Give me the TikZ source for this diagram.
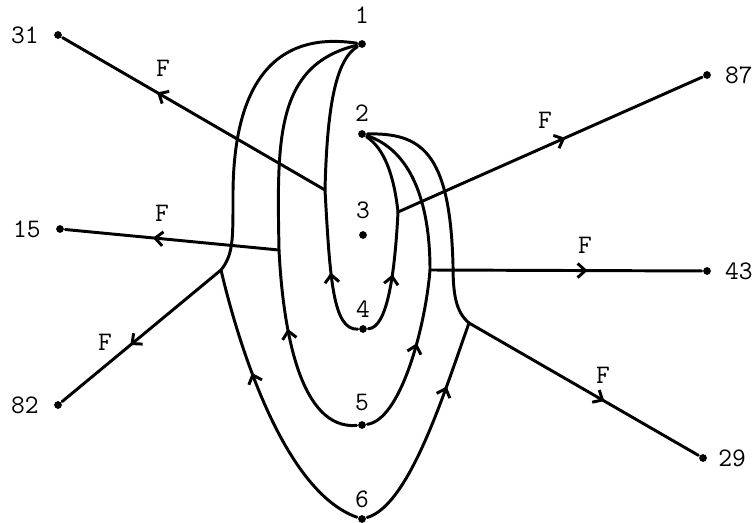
\documentclass[tikz,border=0pt]{standalone}
\usepackage{fontspec}
\usetikzlibrary{arrows.meta, decorations.markings, positioning}

\begin{document}
\begin{tikzpicture}[x=0.025cm, y=-0.025cm, line width=2.1pt, line cap=round,
  line join=round, >={Straight Barb[length=5.5pt,width=10pt]},
  font=\ttfamily\fontsize{19}{21}\selectfont,
  pt/.style={circle, fill, inner sep=0pt, minimum size=5.5pt},
  num/.style={inner sep=1pt},
  flow/.style={postaction={decorate},
    decoration={markings, mark=at position #1 with {\arrow{>}}}}]
  \useasboundingbox (0,0) rectangle (754,523);
  %% points on the axis
  \node[pt] (n1) at (362,44) {};
  \node[pt] (n2) at (362,134) {};
  \node[pt] (n3) at (363,235) {};
  \node[pt] (n4) at (363,329) {};
  \node[pt] (n5) at (362,425) {};
  \node[pt] (n6) at (362,519) {};
  \node[num, above=9pt of n1] (t1) {1};
  \node[num, above=3pt of n2] (t2) {2};
  \node[num, above=6pt of n3] (t3) {3};
  \node[num, above=2pt of n4] (t4) {4};
  \node[num, above=4pt of n5] (t5) {5};
  \node[num, above=2pt of n6] (t6) {6};
  %% end points
  \node[pt] (e31) at (58,35) {};
  \node[pt] (e15) at (60,229) {};
  \node[pt] (e82) at (58,405) {};
  \node[pt] (e87) at (707,75) {};
  \node[pt] (e43) at (707,271) {};
  \node[pt] (e29) at (703,458) {};
  \node[num, left=8pt of e31] (t31) {31};
  \node[num, left=8pt of e15] (t15) {15};
  \node[num, left=8pt of e82] (t82) {82};
  \node[num, right=7pt of e87] (t87) {87};
  \node[num, right=7pt of e43] (t43) {43};
  \node[num, right=5pt of e29] (t29) {29};
  %% junctions
  \coordinate (j31) at (325,190);
  \coordinate (j15) at (279,250);
  \coordinate (j82) at (221,270);
  \coordinate (j87) at (398,212);
  \coordinate (j43) at (430,270);
  \coordinate (j29) at (469,323);
  %% inner loop through 4
  \draw[flow=0.45] (n4) .. controls (333,330) and (330,280) .. (j31);
  \draw (j31) .. controls (327,110) and (335,60) .. (n1);
  \draw[flow=0.5] (n4) .. controls (388,328) and (395,270) .. (j87);
  \draw (j87) .. controls (394,175) and (384,148) .. (n2);
  %% middle loop through 5
  \draw[flow=0.62] (n5) .. controls (300,430) and (283,330) .. (j15);
  \draw (j15) .. controls (277,140) and (275,65) .. (n1);
  \draw[flow=0.57] (n5) .. controls (400,420) and (425,330) .. (j43);
  \draw (j43) .. controls (430,200) and (410,150) .. (n2);
  %% outer loop through 6
  \draw[flow=0.63] (n6) .. controls (280,490) and (235,330) .. (j82);
  \draw (j82) .. controls (233,255) and (233,240) .. (233,200)
    .. controls (232,90) and (270,30) .. (n1);
  \draw[flow=0.7] (n6) .. controls (410,505) and (445,390) .. (j29);
  \draw (j29) .. controls (456,312) and (453,295) .. (453,265)
    .. controls (450,150) and (420,133) .. (n2);
  %% forces
  \draw[flow=0.64] (j31) -- (e31);
  \draw[flow=0.59] (j15) -- (e15);
  \draw[flow=0.57] (j82) -- (e82);
  \draw[flow=0.55] (j87) -- (e87);
  \draw[flow=0.58] (j43) -- (e43);
  \draw[flow=0.59] (j29) -- (e29);
  \node (f31) at (163,68) {F};
  \node (f15) at (162,213) {F};
  \node (f82) at (105,342) {F};
  \node (f87) at (545,120) {F};
  \node (f43) at (585,245) {F};
  \node (f29) at (603,375) {F};
\end{tikzpicture}
\end{document}
